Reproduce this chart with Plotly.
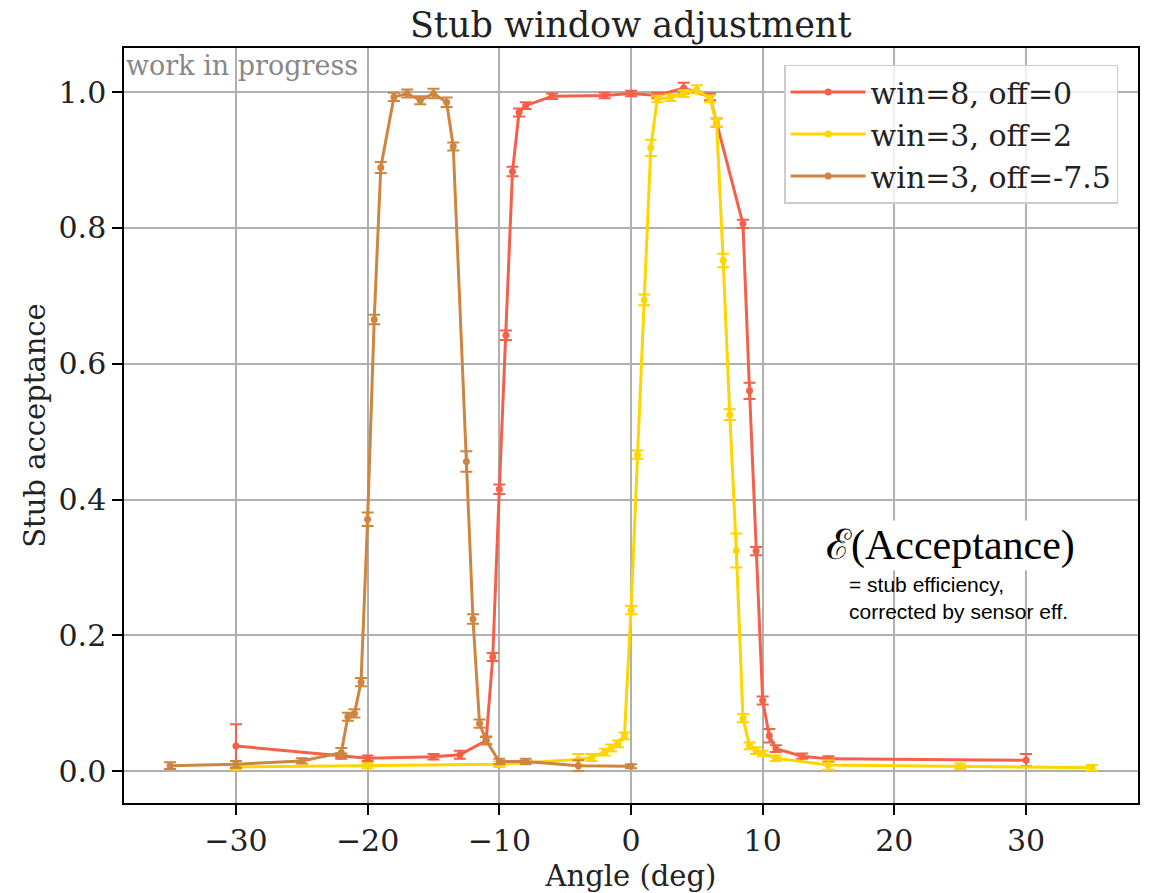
import plotly.graph_objects as go

# ---- data ----
red_x = [-30, -22, -20, -15, -13, -11, -10.5, -10, -9.5, -9, -8.5, -8, -6, -2, 0, 2, 4, 6, 6.5,
         8.5, 9, 9.5, 10, 10.5, 11, 13, 15, 30]
red_y = [0.037, 0.022, 0.019, 0.021, 0.024, 0.045, 0.168, 0.415, 0.642, 0.883, 0.970, 0.980, 0.994,
         0.995, 0.998, 0.995, 1.006, 0.993, 0.955, 0.806, 0.560, 0.324, 0.104, 0.052, 0.033, 0.022,
         0.018, 0.016]
red_e = [0.032, 0.004, 0.004, 0.004, 0.006, 0.006, 0.006, 0.007, 0.007, 0.007, 0.006, 0.005, 0.004,
         0.004, 0.004, 0.004, 0.008, 0.005, 0.006, 0.006, 0.012, 0.006, 0.006, 0.010, 0.005, 0.004,
         0.004, 0.009]

yel_x = [-30, -20, -10, -4, -3, -2, -1.5, -1, -0.5, 0, 0.5, 1, 1.5, 2, 3, 4, 5, 6, 6.5, 7, 7.5, 8,
         8.5, 9, 9.5, 10, 11, 15, 25, 35]
yel_y = [0.006, 0.008, 0.010, 0.017, 0.020, 0.028, 0.034, 0.040, 0.052, 0.237, 0.466, 0.694, 0.918,
         0.990, 0.992, 0.998, 1.004, 0.990, 0.955, 0.752, 0.525, 0.325, 0.078, 0.037, 0.030, 0.026,
         0.019, 0.009, 0.007, 0.005]
yel_e = [0.004, 0.004, 0.004, 0.008, 0.005, 0.005, 0.005, 0.005, 0.005, 0.006, 0.006, 0.008, 0.012,
         0.005, 0.005, 0.005, 0.006, 0.005, 0.006, 0.010, 0.008, 0.025, 0.006, 0.005, 0.005, 0.004,
         0.004, 0.007, 0.004, 0.004]

brn_x = [-35, -30, -25, -22, -21.5, -21, -20.5, -20, -19.5, -19, -18, -17, -16, -15, -14, -13.5,
         -12.5, -12, -11.5, -11, -10, -8, -4, 0]
brn_y = [0.008, 0.010, 0.015, 0.027, 0.080, 0.085, 0.131, 0.371, 0.665, 0.889, 0.993, 0.998, 0.988,
         0.998, 0.985, 0.920, 0.456, 0.224, 0.070, 0.045, 0.014, 0.014, 0.008, 0.007]
brn_e = [0.005, 0.005, 0.004, 0.007, 0.006, 0.006, 0.006, 0.010, 0.007, 0.008, 0.006, 0.006, 0.006,
         0.007, 0.007, 0.006, 0.015, 0.007, 0.006, 0.005, 0.004, 0.004, 0.008, 0.003]

series = [
    ("win=8, off=0", red_x, red_y, red_e, "#f5604a"),
    ("win=3, off=2", yel_x, yel_y, yel_e, "#ffd500"),
    ("win=3, off=-7.5", brn_x, brn_y, brn_e, "#cd853f"),
]

x_ticks = [-30, -20, -10, 0, 10, 20, 30]
y_ticks = [0.0, 0.2, 0.4, 0.6, 0.8, 1.0]

SERIF = "DejaVu Serif"

fig = go.Figure()
for name, xs, ys, es, col in series:
    fig.add_trace(go.Scatter(
        x=xs, y=ys, name=name, mode="lines+markers",
        line=dict(color=col, width=3),
        marker=dict(color=col, size=7),
        error_y=dict(type="data", array=es, visible=True, color=col, thickness=2, width=6),
    ))

fig.update_layout(
    width=1153, height=893,
    margin=dict(l=124, r=15, t=48, b=90),
    paper_bgcolor="white", plot_bgcolor="white",
    font=dict(family=SERIF, size=29, color="#222222"),
    title=dict(text="Stub window adjustment", x=0.547, xanchor="center",
               y=0.972, yanchor="middle", yref="container",
               font=dict(family=SERIF, size=35, color="#222222")),
    legend=dict(x=0.651, y=0.978, xanchor="left", yanchor="top",
                bgcolor="rgba(255,255,255,0.8)", bordercolor="#cccccc", borderwidth=1.5,
                font=dict(family=SERIF, size=30, color="#222222"),
                itemwidth=75, tracegroupgap=0),
    showlegend=True,
)

fig.update_xaxes(
    range=[-38.5, 38.5], tickvals=x_ticks, ticks="outside", ticklen=10, tickwidth=1.5,
    tickcolor="black", showline=True, linecolor="black", linewidth=1.5, mirror=True,
    showgrid=True, gridcolor="#b0b0b0", gridwidth=1.5, zeroline=False, automargin=False,
    title=dict(text="Angle (deg)", standoff=12, font=dict(family=SERIF, size=29)),
    tickfont=dict(family=SERIF, size=30),
)
fig.update_yaxes(
    range=[-0.047, 1.065], tickvals=y_ticks, tickformat=".1f", ticks="outside", ticklen=10,
    tickwidth=1.5, tickcolor="black", showline=True, linecolor="black", linewidth=1.5, mirror=True,
    showgrid=True, gridcolor="#b0b0b0", gridwidth=1.5, zeroline=False, automargin=False,
    title=dict(text="Stub acceptance", standoff=4, font=dict(family=SERIF, size=29)),
    tickfont=dict(family=SERIF, size=30),
)

fig.add_annotation(text="work in progress", xref="paper", yref="paper", x=0.0, y=1.0,
                   xanchor="left", yanchor="top", showarrow=False,
                   font=dict(family=SERIF, size=27, color="#888888"))

fig.add_annotation(text="ℰ(Acceptance)", xref="paper", yref="paper",
                   x=(950 - 124) / 1014, y=(803 - 545) / 755, xanchor="center", yanchor="middle",
                   showarrow=False, bgcolor="white",
                   font=dict(family="Liberation Serif", size=42, color="black"))
fig.add_annotation(text="= stub efficiency,<br>corrected by sensor eff.", xref="paper", yref="paper",
                   x=(847 - 124) / 1014, y=(803 - 571) / 755, xanchor="left", yanchor="top",
                   align="left", showarrow=False,
                   font=dict(family="Liberation Sans", size=21, color="black"))

fig.write_html("out.html")
